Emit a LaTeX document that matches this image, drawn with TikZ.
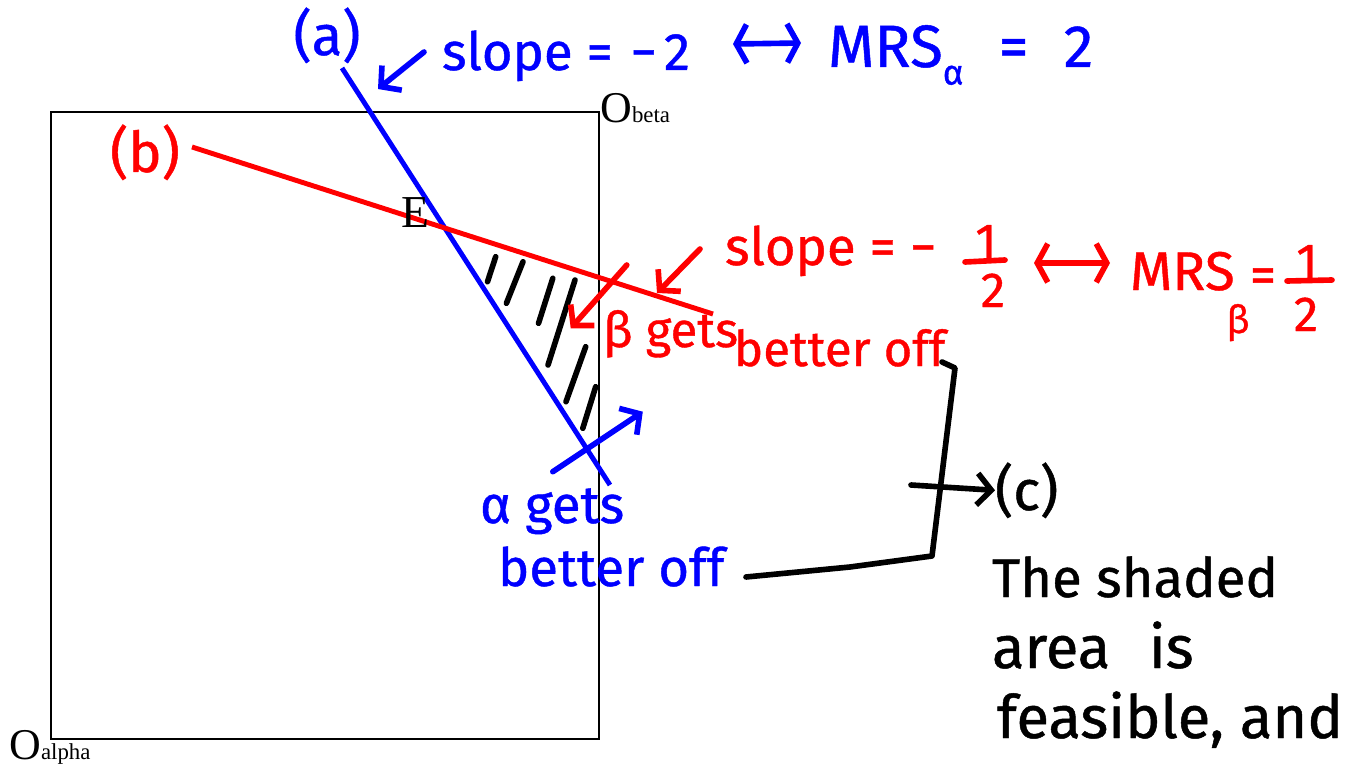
\documentclass[tikz,border=0pt]{standalone}
\usepackage{fontspec}
\setmainfont{Liberation Serif}
\newfontfamily\hand[FakeBold=0.8]{Fira Sans}
\usetikzlibrary{arrows.meta}
\definecolor{hblue}{RGB}{0,0,255}
\definecolor{hred}{RGB}{255,0,0}
\tikzset{
  hw/.style={font=\hand\fontsize{#1}{#1}\selectfont, inner sep=0pt, outer sep=0pt},
  ink/.style={line width=3.2pt, line cap=round, line join=round},
  barb/.style={-{Straight Barb[length=8pt,width=18pt]}},
  dbarb/.style={{Straight Barb[length=6pt,width=22pt]}-{Straight Barb[length=6pt,width=22pt]}},
  boxline/.style={line width=1.1pt, black},
  budget/.style={line width=2.8pt},
}
\begin{document}
\begin{tikzpicture}[x=0.02cm,y=-0.02cm]
\useasboundingbox (0,0) rectangle (1346,767);
% Edgeworth box
\draw[boxline] (51,112) rectangle (599,739);
\node[anchor=base west, inner sep=0pt] (Obeta) at (600,123) {\fontsize{25}{25}\selectfont O\fontsize{13}{13}\selectfont beta};
\node[anchor=base west, inner sep=0pt] (Oalpha) at (9,759) {\fontsize{25}{25}\selectfont O\fontsize{13}{13}\selectfont alpha};
% lines
\coordinate (a1) at (342,68);
\coordinate (a2) at (610,485);
\coordinate (b1) at (192,147);
\coordinate (b2) at (713,314);
\draw[budget, hblue] (a1) -- (a2);
\draw[budget, hred] (b1) -- (b2);
\node[anchor=base west, inner sep=0pt, font=\fontsize{26}{26}\selectfont] (E) at (401,227) {E};
% hatching
\foreach \p/\q in {{(495.7,256.7)}/{(487.5,281.7)}, {(523,261.7)}/{(506.4,303.3)}, {(552.8,278.3)}/{(538.5,323.3)}, {(575,280)}/{(548,365)}, {(585.7,346.7)}/{(566,401.7)}, {(595.7,386.7)}/{(582.8,428.3)}}
  \draw[ink, black] \p -- \q;
% labels (a), (b)
\node[hw=32, text=hblue, anchor=base] (la) at (327,55) {(a)};
\node[hw=32, text=hred, anchor=base] (lb) at (145,172) {(b)};
% blue slope annotation
\node[hw=30, text=hblue, anchor=base west] (slopeA) at (442,70) {slope\hspace{8pt}=\hspace{10pt}−\hspace{4pt}2};
\draw[ink, hblue, dbarb] (733,44) -- (801,43);
\node[hw=34, text=hblue, anchor=base west] (mrsA) at (828,67) {MRS\raisebox{-10pt}{\fontsize{20}{20}\selectfont α}\hspace{20pt}=\hspace{20pt}2};
\draw[ink, hblue, barb] (424,52) -- (378,89);
% red slope annotation
\node[hw=30, text=hred, anchor=base west] (slopeB) at (725,265) {slope\hspace{8pt}=\hspace{8pt}−};
\node[hw=28, text=hred, anchor=base] (f1n) at (986,258) {1};
\draw[ink, hred] (965,262) -- (1005,260);
\node[hw=28, text=hred, anchor=base] (f1d) at (993,307) {2};
\draw[ink, hred, dbarb] (1034,263) -- (1110,263);
\node[hw=31, text=hred, anchor=base west] (mrsB) at (1130,290) {MRS};
\node[hw=22, text=hred, anchor=base] (subB) at (1238,333) {β};
\node[hw=30, text=hred, anchor=base] (eqB) at (1263,293) {=};
\node[hw=28, text=hred, anchor=base] (f2n) at (1307,278) {1};
\draw[ink, hred] (1287,281) -- (1332,280);
\node[hw=28, text=hred, anchor=base] (f2d) at (1306,331) {2};
\draw[ink, hred, barb] (700,249) -- (657,293);
% beta gets better off
\node[hw=28, text=hred, anchor=base west] (betaB) at (603,347) {β gets};
\node[hw=28, text=hred, anchor=base west] (bbo) at (734,366) {better off};
\draw[ink, hred, barb] (626.8,265) -- (570.7,328.3);
% alpha gets better off
\node[hw=30, text=hblue, anchor=base west] (alphaG) at (480,523) {α gets};
\node[hw=30, text=hblue, anchor=base west] (abo) at (498,586) {better off};
\draw[ink, hblue, barb] (552.8,471.7) -- (642.8,411.7);
% connector to (c)
\coordinate (k1) at (746,577);
\coordinate (k2) at (932,556);
\coordinate (k3) at (955,368);
\coordinate (k4) at (942,362);
\draw[ink, black] (k1) -- (850,567) -- (k2) -- (k3) -- (k4);
\node[hw=32, anchor=base west] (lc) at (995,510) {(c)};
\draw[ink, black, barb] (911,485) -- (lc.west);
% explanation
\node[hw=31, anchor=base west] (t1) at (992,597) {The shaded};
\node[hw=34, anchor=base west] (t2) at (992,668) {area\hspace{22pt}is};
\node[hw=34, anchor=base west] (t3) at (997,738) {feasible, and};
\end{tikzpicture}
\end{document}
